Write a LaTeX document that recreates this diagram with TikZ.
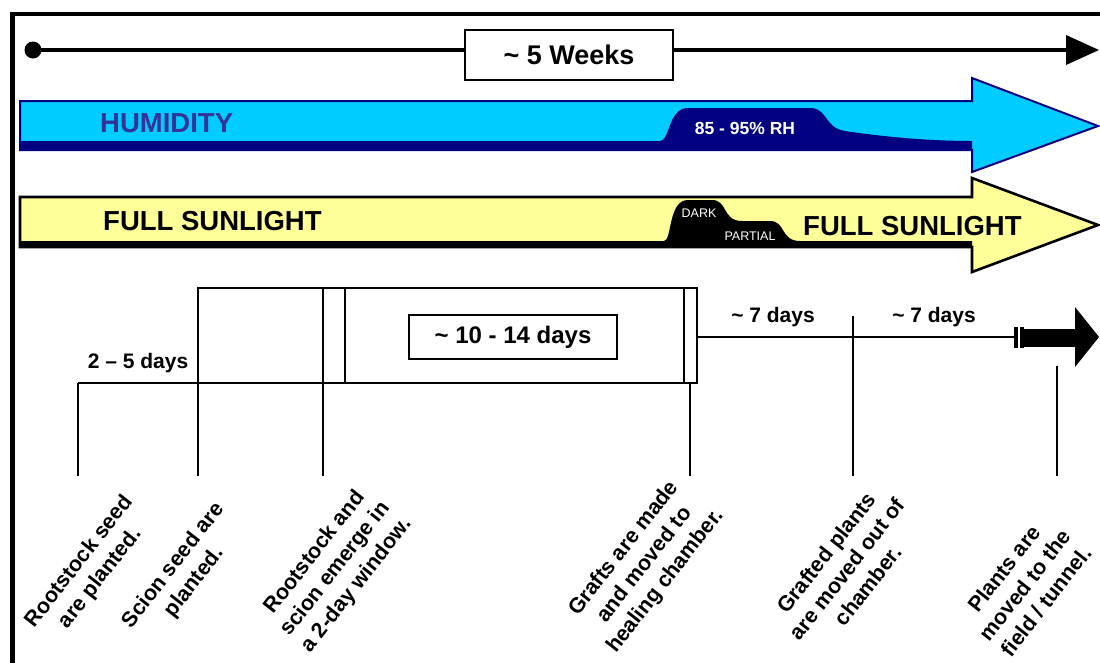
\documentclass[tikz,border=0pt]{standalone}
\usepackage{fontspec}
\setmainfont{Liberation Sans}
\definecolor{hblue}{HTML}{00CCFF}
\definecolor{hnavy}{HTML}{000080}
\definecolor{htext}{HTML}{333399}
\definecolor{sunyel}{HTML}{FFFF99}
\newcommand{\tld}{\textasciitilde}
\tikzset{
  frame/.style={line width=4.5pt, line cap=rect},
  tline/.style={line width=4pt},
  thin/.style={line width=2.6pt},
  labelbox/.style={draw, line width=2.6pt, fill=white, inner sep=0, minimum height=#1},
  big/.style={font=\fontsize{27}{30}\selectfont\bfseries},
  bar/.style={font=\fontsize{27.5}{30}\selectfont\bfseries, inner sep=0},
  mid/.style={font=\fontsize{21}{24}\selectfont\bfseries, inner sep=0},
  small/.style={font=\fontsize{12.5}{14}\selectfont, text=white, inner sep=0},
  lbl/.style={font=\fontsize{21.5}{26.5}\selectfont\bfseries, rotate=52, align=center, inner sep=0},
  drop/.style={line width=2.6pt}
}
\begin{document}
\begin{tikzpicture}[x=1pt,y=-1pt]
\useasboundingbox (0,0) rectangle (1100,662);
\fill[white] (0,0) rectangle (1100,662);
% frame
\draw[frame] (12.5,662) -- (12.5,14) -- (1100,14);
% top timeline
\coordinate (ts) at (33,50);
\coordinate (te) at (1068,50);
\fill (ts) circle (8.5);
\draw[tline] (ts) -- (te);
\fill (1066,35) -- (1099,50) -- (1066,65) -- cycle;
\node[labelbox=50, minimum width=208, big] (weeks) at (569,55) {\tld\ 5 Weeks};
% humidity arrow
\fill[hblue] (20,101) -- (972,101) -- (972,78) -- (1098,126) -- (972,172) -- (972,150) -- (20,150) -- cycle;
\fill[hnavy] (20,141) -- (660,141) .. controls (670,141) and (668,108) .. (688,108)
  -- (812,108) .. controls (828,110) and (825,128) .. (845,131)
  .. controls (885,137) and (930,141) .. (972,141) -- (972,150) -- (20,150) -- cycle;
\draw[hnavy, line width=2pt, line join=miter] (20,101) -- (972,101) -- (972,78) -- (1098,126) -- (972,172) -- (972,150) -- (20,150) -- cycle;
\node[bar, text=htext, anchor=west] (hum) at (100,123) {HUMIDITY};
\node[font=\fontsize{17.5}{20}\selectfont\bfseries, text=white, inner sep=0] (rh) at (745,128) {85 - 95\% RH};
% sunlight arrow
\fill[sunyel] (20,197) -- (972,197) -- (972,178) -- (1098,225) -- (972,272) -- (972,247) -- (20,247) -- cycle;
\fill[black] (20,241) -- (664,241) .. controls (672,241) and (668,200) .. (688,200)
  -- (712,200) .. controls (728,200) and (722,221) .. (742,221)
  -- (770,221) .. controls (786,221) and (780,241) .. (800,241)
  -- (972,241) -- (972,247) -- (20,247) -- cycle;
\draw[black, line width=2.6pt, line join=miter] (20,197) -- (972,197) -- (972,178) -- (1098,225) -- (972,272) -- (972,247) -- (20,247) -- cycle;
\node[bar, anchor=west] (fs1) at (103,221) {FULL SUNLIGHT};
\node[bar, anchor=west] (fs2) at (803,226) {FULL SUNLIGHT};
\node[small] (dark) at (699,213) {DARK};
\node[small] (partial) at (750,236) {PARTIAL};
% lower timeline
\coordinate (p1) at (78,383);
\coordinate (p2) at (198,383);
\coordinate (p3) at (323,383);
\coordinate (p4) at (690,383);
\coordinate (p5) at (853,316);
\coordinate (p6) at (1057,366);
\draw[thin, line join=miter] (p1) -- (697,383);
\draw[thin, line join=miter] (198,288) rectangle (697,383);
\draw[thin] (323,288) -- (323,383);
\draw[thin] (345,288) -- (345,383);
\draw[thin] (684,288) -- (684,383);
\node[labelbox=44, minimum width=208, font=\fontsize{24}{27}\selectfont\bfseries] (d1014) at (513,337) {\tld\ 10 - 14 days};
\coordinate (lineend) at (1014,337);
\draw[thin] (697,337) -- (lineend);
\fill (1014,327) rectangle (1017.5,348);
\fill (1020,327) rectangle (1023.5,348);
\fill (1023.5,328.5) rectangle (1076,346.5);
\fill (1075,307) -- (1099,337) -- (1075,367) -- cycle;
\node[mid, anchor=south] (d7a) at (773,327) {\tld\ 7 days};
\node[mid, anchor=south] (d7b) at (934,327) {\tld\ 7 days};
\node[mid, anchor=south] (d25) at (138,373) {2 -- 5 days};
% drops
\draw[drop] (p1) -- (78,476);
\draw[drop] (p2) -- (198,476);
\draw[drop] (p3) -- (323,476);
\draw[drop] (p4) -- (690,476);
\draw[drop] (p5) -- (853,476);
\draw[drop] (p6) -- (1057,476);
% labels
\node[lbl] (l1) at (90,570) {Rootstock seed\\are planted.};
\node[lbl] (l2) at (184,574) {Scion seed are\\planted.};
\node[lbl] (l3) at (336,569) {Rootstock and\\scion emerge in\\a 2-day window.};
\node[lbl] (l4) at (645,565) {Grafts are made\\and moved to\\healing chamber.};
\node[lbl] (l5) at (847,569) {Grafted plants\\are moved out of\\chamber.};
\node[lbl] (l6) at (1025,585) {Plants are\\moved to the\\field / tunnel.};
\end{tikzpicture}
\end{document}
